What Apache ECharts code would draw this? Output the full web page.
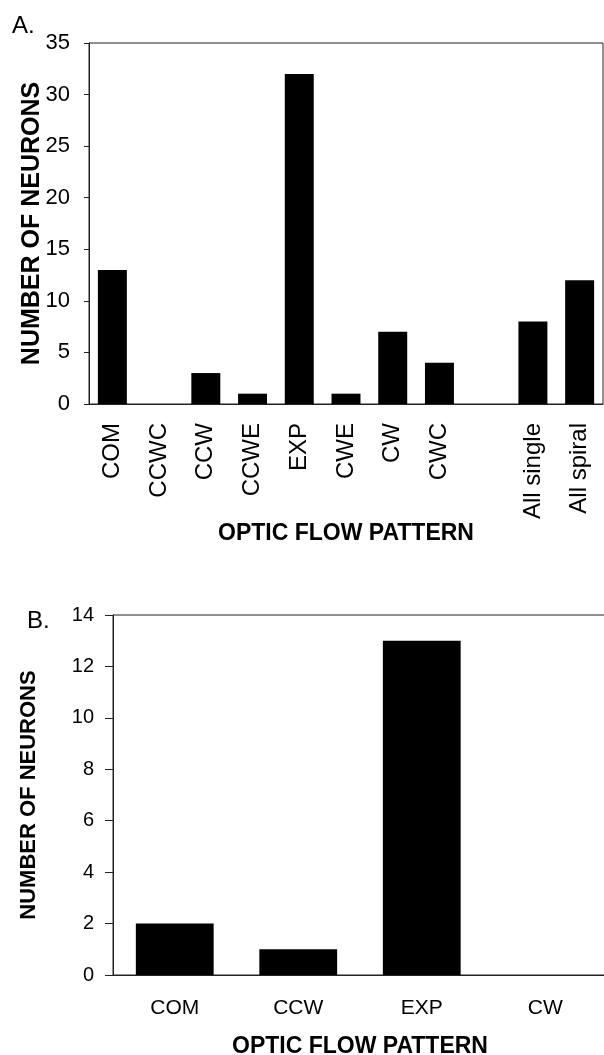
<!DOCTYPE html>
<html>
<head>
<meta charset="utf-8">
<script src="https://cdn.jsdelivr.net/npm/echarts@6/dist/echarts.min.js"></script>
<style>
html,body{margin:0;padding:0;background:#fff;}
#chart{width:604px;height:1055px;}
</style>
</head>
<body>
<div id="chart"></div>
<script>
var catsA = ['COM','CCWC','CCW','CCWE','EXP','CWE','CW','CWC','','All single','All spiral'];
var valsA = [13,0,3,1,32,1,7,4,null,8,12];
var ticksA = {min:0, max:35, interval:5};
var catsB = ['COM','CCW','EXP','CW'];
var valsB = [2,1,13,0];
var ticksB = {min:0, max:14, interval:2};
var yTitle = 'NUMBER OF NEURONS';
var xTitle = 'OPTIC FLOW PATTERN';

var FONT = '"Liberation Sans", Arial, sans-serif';
var chart = echarts.init(document.getElementById('chart'), null, {renderer:'canvas'});
var axisLine = {show:true, lineStyle:{color:'#222', width:1}};
chart.setOption({
  animation:false,
  backgroundColor:'#fff',
  title:[
    {text:'A.', left:7, top:9, textStyle:{fontFamily:FONT, fontSize:24, fontWeight:'normal', color:'#000'}},
    {text:'B.', left:22, top:604, textStyle:{fontFamily:FONT, fontSize:24, fontWeight:'normal', color:'#000'}}
  ],
  grid:[
    {left:89, top:43, width:514, height:361, show:true, borderColor:'#222', borderWidth:1, backgroundColor:'transparent', outerBoundsMode:'none', containLabel:false},
    {left:113, top:615, width:494, height:360, show:true, borderColor:'#222', borderWidth:1, backgroundColor:'transparent', outerBoundsMode:'none', containLabel:false}
  ],
  xAxis:[
    {type:'category', gridIndex:0, data:catsA, axisLine:axisLine, axisTick:{show:false},
     axisLabel:{rotate:90, margin:19, fontFamily:FONT, fontSize:24, color:'#000', interval:0},
     name:xTitle, nameLocation:'middle', nameGap:118, nameMoveOverlap:false,
     nameTextStyle:{fontFamily:FONT, fontSize:23, fontWeight:'bold', color:'#000'}},
    {type:'category', gridIndex:1, data:catsB, axisLine:axisLine, axisTick:{show:false},
     axisLabel:{margin:23, fontFamily:FONT, fontSize:21, color:'#000', interval:0},
     name:xTitle, nameLocation:'middle', nameGap:60, nameMoveOverlap:false,
     nameTextStyle:{fontFamily:FONT, fontSize:23, fontWeight:'bold', color:'#000'}}
  ],
  yAxis:[
    {type:'value', gridIndex:0, min:ticksA.min, max:ticksA.max, interval:ticksA.interval,
     axisLine:axisLine, axisTick:{show:true, length:5, lineStyle:{color:'#222'}}, splitLine:{show:false},
     axisLabel:{margin:19, fontFamily:FONT, fontSize:22, color:'#000'},
     name:yTitle, nameLocation:'middle', nameGap:44, nameRotate:90, nameMoveOverlap:false,
     nameTextStyle:{fontFamily:FONT, fontSize:25, fontWeight:'bold', color:'#000'}},
    {type:'value', gridIndex:1, min:ticksB.min, max:ticksB.max, interval:ticksB.interval,
     axisLine:axisLine, axisTick:{show:true, length:8, lineStyle:{color:'#222'}}, splitLine:{show:false},
     axisLabel:{margin:19, fontFamily:FONT, fontSize:20, color:'#000'},
     name:yTitle, nameLocation:'middle', nameGap:73, nameRotate:90, nameMoveOverlap:false,
     nameTextStyle:{fontFamily:FONT, fontSize:22, fontWeight:'bold', color:'#000'}}
  ],
  series:[
    {type:'bar', xAxisIndex:0, yAxisIndex:0, data:valsA, barWidth:'62%', itemStyle:{color:'#000'}},
    {type:'bar', xAxisIndex:1, yAxisIndex:1, data:valsB, barWidth:'63%', itemStyle:{color:'#000'}}
  ]
});
</script>
</body>
</html>
